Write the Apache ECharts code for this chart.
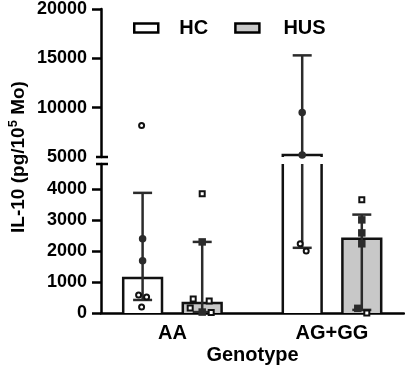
<!DOCTYPE html>
<html>
<head>
<meta charset="utf-8">
<script src="https://cdn.jsdelivr.net/npm/echarts@6/dist/echarts.min.js"></script>
<style>
  html, body { margin: 0; padding: 0; background: #fff; }
  #chart { width: 405px; height: 372px; }
</style>
</head>
<body>
<div id="chart"></div>
<script>
const genotypes = ['AA', 'AG+GG']
const groups = ['HC', 'HUS']

// bar heights, pg/10^5 Mo
const hcBar = [1130, 5200]
const husBar = [320, 2390]

// whiskers [low, high]
const hcErr = [[420, 3870], [2100, 15300]]
const husErr = [[30, 2290], [100, 3170]]

// points: [genotype index, jitter, value]
const hcOpen = [[0, -0.05, 8200], [0, -0.2, 580], [0, 0.2, 516], [0, -0.05, 190], [1, -0.1, 2230], [1, 0.2, 2000]]
const hcFilled = [[0, 0, 2390], [0, 0, 1680], [1, 0, 9500], [1, 0, 5200]]
const husOpen = [[0, 0, 3840], [0, -0.45, 450], [0, 0.35, 390], [0, -0.6, 160], [0, 0.45, 20], [1, 0, 3650], [1, 0.25, 0]]
const husFilled = [[0, 0, 2290], [0, 0, 30], [1, 0, 3000], [1, 0, 2580], [1, 0, 2230], [1, -0.2, 150]]

const lowTicks = [0, 1000, 2000, 3000, 4000]
const highTicks = [5000, 10000, 15000, 20000]

const FONT = '"Liberation Sans", Arial, Helvetica, sans-serif'
const GROUP_X = [3.57, 11.55]
const OFFSET = { HC: -1.49, HUS: 1.49 }
const BAR_W = 1.94
const CAP_W = 0.95
const FILL = { HC: '#ffffff', HUS: '#c8c8c8' }
const SYMBOL = { HC: 'circle', HUS: 'rect' }

const chart = echarts.init(document.getElementById('chart'), null, { renderer: 'canvas' })

const xOf = (g, i) => GROUP_X[i] + OFFSET[g]

function barItem(params, api) {
  const x = api.value(0), v = api.value(1)
  const a = api.coord([x - BAR_W / 2, 0])
  const b = api.coord([x + BAR_W / 2, v])
  return {
    type: 'group',
    children: [
      { type: 'rect', shape: { x: a[0], y: b[1], width: b[0] - a[0], height: a[1] - b[1] },
        style: { fill: api.visual('color') } },
      { type: 'polyline', shape: { points: [[a[0], a[1]], [a[0], b[1]], [b[0], b[1]], [b[0], a[1]]] },
        style: { stroke: '#111', lineWidth: 2.5, fill: null } },
    ],
  }
}

function errItem(params, api) {
  const x = api.value(0)
  const lo = api.coord([x, api.value(1)])
  const hi = api.coord([x, api.value(2)])
  const half = api.size([CAP_W, 0])[0] / 2
  const st = { stroke: '#2b2b2b', lineWidth: 2.5 }
  return {
    type: 'group',
    children: [
      { type: 'line', shape: { x1: lo[0], y1: lo[1], x2: hi[0], y2: hi[1] }, style: st },
      { type: 'line', shape: { x1: hi[0] - half, y1: hi[1], x2: hi[0] + half, y2: hi[1] }, style: st },
      { type: 'line', shape: { x1: lo[0] - half, y1: lo[1], x2: lo[0] + half, y2: lo[1] }, style: st },
    ],
  }
}

const bars = { HC: hcBar, HUS: husBar }
const errs = { HC: hcErr, HUS: husErr }
const opens = { HC: hcOpen, HUS: husOpen }
const filleds = { HC: hcFilled, HUS: husFilled }

const series = []
;[0, 1].forEach(gi => {
  groups.forEach(g => {
    series.push({
      name: g, type: 'custom', xAxisIndex: gi, yAxisIndex: gi, clip: true, z: 1,
      itemStyle: { color: FILL[g], borderColor: '#111', borderWidth: 2 },
      renderItem: barItem,
      data: bars[g].map((v, i) => [xOf(g, i), v]),
    })
  })
  groups.forEach(g => {
    series.push({
      name: g + ' err', type: 'custom', xAxisIndex: gi, yAxisIndex: gi, clip: true, z: 2,
      renderItem: errItem,
      data: errs[g].map((e, i) => [xOf(g, i), e[0], e[1]]),
    })
  })
  groups.forEach(g => {
    series.push({
      name: g + ' open', type: 'scatter', xAxisIndex: gi, yAxisIndex: gi, clip: true, z: 3,
      symbol: SYMBOL[g], symbolSize: 5,
      itemStyle: { color: '#fff', borderColor: '#111', borderWidth: 2, opacity: 1 },
      data: opens[g].map(p => [xOf(g, p[0]) + p[1], p[2]]),
    })
    series.push({
      name: g + ' filled', type: 'scatter', xAxisIndex: gi, yAxisIndex: gi, clip: true, z: 4,
      symbol: SYMBOL[g], symbolSize: 7.5,
      itemStyle: { color: '#2b2b2b', opacity: 1 },
      data: filleds[g].map(p => [xOf(g, p[0]) + p[1], p[2]]),
    })
  })
})

const axisText = { color: '#000', fontFamily: FONT, fontWeight: 'bold' }
const axisLine = { show: true, lineStyle: { color: '#000', width: 2.5 } }
const tickStyle = { color: '#000', width: 2.5 }

const option = {
  animation: false,
  backgroundColor: '#fff',
  grid: [
    { left: 101, right: 1, top: 7, height: 150 },
    { left: 101, right: 1, top: 164, height: 149 },
  ],
  legend: {
    data: [
      { name: 'HC', itemStyle: { color: FILL.HC, borderColor: '#000', borderWidth: 2.5 },
        textStyle: { padding: [0, 0, 0, 16] } },
      { name: 'HUS', itemStyle: { color: FILL.HUS, borderColor: '#000', borderWidth: 2.5 },
        textStyle: { padding: [0, 0, 0, 19] } },
    ],
    icon: 'rect', left: 128, top: 13, itemWidth: 24, itemHeight: 9, itemGap: 26,
    selectedMode: false,
    textStyle: { ...axisText, fontSize: 20 },
  },
  xAxis: [
    { gridIndex: 0, type: 'value', min: 0, max: 15.15, show: false },
    {
      gridIndex: 1, type: 'value', min: 0, max: 15.15,
      axisLine, axisTick: { show: false }, splitLine: { show: false },
      axisLabel: {
        ...axisText, fontSize: 20, margin: 10,
        customValues: GROUP_X,
        formatter: v => genotypes[GROUP_X.indexOf(v)] || '',
      },
      name: 'Genotype', nameLocation: 'middle', nameGap: 32,
      nameTextStyle: { ...axisText, fontSize: 20 },
    },
  ],
  yAxis: [
    {
      gridIndex: 0, type: 'value', min: 5000, max: 20000,
      axisLine, splitLine: { show: false },
      axisTick: { show: true, length: 9, lineStyle: tickStyle, customValues: highTicks.slice(1) },
      axisLabel: { ...axisText, fontSize: 18, margin: 14, customValues: highTicks, formatter: v => String(v) },
    },
    {
      gridIndex: 1, type: 'value', min: 0, max: 4800,
      axisLine, splitLine: { show: false },
      axisTick: { show: true, length: 9, lineStyle: tickStyle, customValues: lowTicks },
      axisLabel: { ...axisText, fontSize: 18, margin: 14, customValues: lowTicks, formatter: v => String(v) },
    },
  ],
  series,
}

chart.setOption(option)

// axis break marks + rotated y title
const top5000 = chart.convertToPixel({ yAxisIndex: 0 }, 5000)
const bot4800 = chart.convertToPixel({ yAxisIndex: 1 }, 4800)
const axX = chart.convertToPixel({ xAxisIndex: 1 }, 0)
chart.setOption({
  graphic: [
    { type: 'line', shape: { x1: axX - 5, y1: top5000, x2: axX + 7, y2: top5000 }, style: { stroke: '#000', lineWidth: 2.5 } },
    { type: 'line', shape: { x1: axX - 5, y1: bot4800, x2: axX + 7, y2: bot4800 }, style: { stroke: '#000', lineWidth: 2.5 } },
    {
      type: 'text', x: 19, y: 157, rotation: Math.PI / 2,
      style: {
        text: 'IL-10 (pg/10{sup|5} Mo)',
        fontFamily: FONT, fontWeight: 'bold', fontSize: 19, fill: '#000',
        align: 'center', verticalAlign: 'middle',
        rich: { sup: { fontFamily: FONT, fontWeight: 'bold', fontSize: 13, padding: [0, 0, 12, 0] } },
      },
    },
  ],
})
</script>
</body>
</html>
